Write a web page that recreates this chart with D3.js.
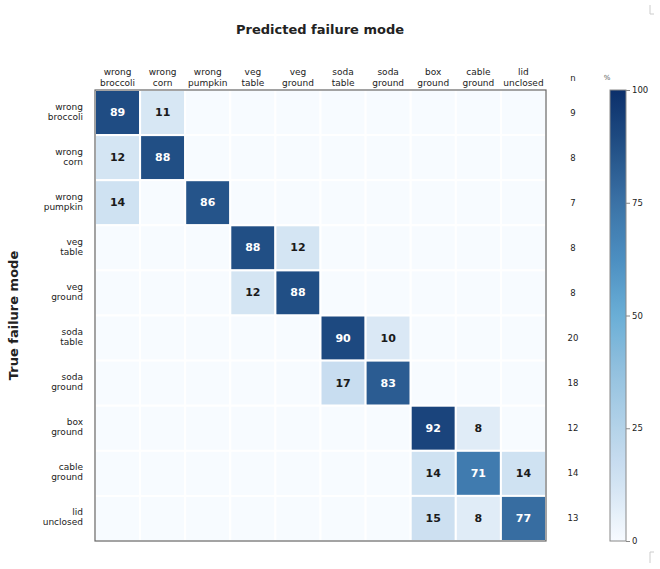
<!DOCTYPE html>
<html lang="en">

<head>
	<meta charset="UTF-8" />
	<title>Confusion matrix D3</title>
	<script src="https://cdn.jsdelivr.net/npm/d3@7"></script>
	<style>
		body { margin: 0; background: #fff; }
		text { font-family: "DejaVu Sans", sans-serif; fill: #222; }
	</style>
</head>

<body>
	<svg id="vis" width="660" height="569"></svg>

	<script>
		// failure modes (rows = true, columns = predicted)
		var modes = ["wrong broccoli", "wrong corn", "wrong pumpkin", "veg table", "veg ground",
			"soda table", "soda ground", "box ground", "cable ground", "lid unclosed"];

		// number of samples per true mode
		var counts = [9, 8, 7, 8, 8, 20, 18, 12, 14, 13];

		// percentages, one row per true mode
		var rowBroccoli = [89, 11, 0, 0, 0, 0, 0, 0, 0, 0];
		var rowCorn = [12, 88, 0, 0, 0, 0, 0, 0, 0, 0];
		var rowPumpkin = [14, 0, 86, 0, 0, 0, 0, 0, 0, 0];
		var rowVegTable = [0, 0, 0, 88, 12, 0, 0, 0, 0, 0];
		var rowVegGround = [0, 0, 0, 12, 88, 0, 0, 0, 0, 0];
		var rowSodaTable = [0, 0, 0, 0, 0, 90, 10, 0, 0, 0];
		var rowSodaGround = [0, 0, 0, 0, 0, 17, 83, 0, 0, 0];
		var rowBoxGround = [0, 0, 0, 0, 0, 0, 0, 92, 8, 0];
		var rowCableGround = [0, 0, 0, 0, 0, 0, 0, 14, 71, 14];
		var rowLidUnclosed = [0, 0, 0, 0, 0, 0, 0, 15, 8, 77];
		var percent = [rowBroccoli, rowCorn, rowPumpkin, rowVegTable, rowVegGround,
			rowSodaTable, rowSodaGround, rowBoxGround, rowCableGround, rowLidUnclosed];

		var colorTicks = [0, 25, 50, 75, 100];

		var svg = d3.select("#vis");

		// geometry of the matrix
		var mLeft = 95, mTop = 90, mSize = 451;

		var scaleX = d3.scaleBand().domain(modes).range([mLeft, mLeft + mSize]);
		var scaleY = d3.scaleBand().domain(modes).range([mTop, mTop + mSize]);

		// colour scale (muted Blues)
		var color = d3.scaleLinear()
			.domain([0, 8, 12.5, 17, 25, 37.5, 50, 62.5, 75, 87.5, 100])
			.range(["#f7fbff", "#e0ecf7", "#d3e4f3", "#c8ddf0", "#b4d3e9", "#93c1df",
				"#6aaed6", "#4c8fc1", "#3b72a6", "#225086", "#0b2f6a"])
			.interpolate(d3.interpolateRgb);

		// cells
		var cells = [];
		for (var i = 0; i < percent.length; i++) {
			for (var j = 0; j < percent[i].length; j++) {
				cells.push({ row: modes[i], col: modes[j], v: percent[i][j] });
			}
		}

		var gCells = svg.append("g");
		gCells.selectAll("rect")
			.data(cells)
			.enter()
			.append("rect")
			.attr("x", function (d) { return scaleX(d.col); })
			.attr("y", function (d) { return scaleY(d.row); })
			.attr("width", scaleX.bandwidth())
			.attr("height", scaleY.bandwidth())
			.attr("fill", function (d) { return color(d.v); })
			.attr("stroke", "#fff")
			.attr("stroke-width", 2);

		gCells.selectAll("text")
			.data(cells.filter(function (d) { return d.v > 0; }))
			.enter()
			.append("text")
			.attr("x", function (d) { return scaleX(d.col) + scaleX.bandwidth() / 2; })
			.attr("y", function (d) { return scaleY(d.row) + scaleY.bandwidth() / 2; })
			.attr("text-anchor", "middle")
			.attr("dominant-baseline", "central")
			.style("font-size", "11px")
			.style("font-weight", "bold")
			.style("fill", function (d) { return d.v >= 50 ? "#fff" : "#1a1a1a"; })
			.text(function (d) { return d.v; });

		// frame
		svg.append("rect")
			.attr("x", mLeft)
			.attr("y", mTop)
			.attr("width", mSize)
			.attr("height", mSize)
			.attr("fill", "none")
			.attr("stroke", "#666")
			.attr("stroke-width", 1.2);

		// top axis (predicted)
		var gxAxis = svg.append("g")
			.attr("transform", "translate(0," + mTop + ")")
			.call(d3.axisTop(scaleX).tickSize(0));
		gxAxis.select(".domain").remove();
		gxAxis.selectAll("text").each(function (d) {
			var t = d3.select(this);
			var parts = d.split(" ");
			t.text(null).attr("y", -15).attr("dy", null)
				.style("font-size", "9px").style("fill", "#222");
			t.append("tspan").attr("x", 0).attr("dy", 0).text(parts[0]);
			t.append("tspan").attr("x", 0).attr("dy", 10.5).text(parts[1]);
		});

		// left axis (true)
		var gyAxis = svg.append("g")
			.attr("transform", "translate(" + mLeft + ",0)")
			.call(d3.axisLeft(scaleY).tickSize(0));
		gyAxis.select(".domain").remove();
		gyAxis.selectAll("text").each(function (d) {
			var t = d3.select(this);
			var parts = d.split(" ");
			t.text(null).attr("x", -12).attr("dy", null)
				.style("font-size", "9px").style("fill", "#222");
			t.append("tspan").attr("x", -12).attr("dy", -3).text(parts[0]);
			t.append("tspan").attr("x", -12).attr("dy", 10).text(parts[1]);
		});

		// titles
		svg.append("text")
			.attr("x", 320)
			.attr("y", 34)
			.attr("text-anchor", "middle")
			.style("font-size", "13px")
			.style("font-weight", "bold")
			.text("Predicted failure mode");

		svg.append("text")
			.attr("transform", "translate(18," + (mTop + mSize / 2) + ") rotate(-90)")
			.attr("text-anchor", "middle")
			.style("font-size", "13px")
			.style("font-weight", "bold")
			.text("True failure mode");

		// n column
		svg.append("text")
			.attr("x", 573)
			.attr("y", 81)
			.attr("text-anchor", "middle")
			.style("font-size", "8.5px")
			.text("n");

		svg.append("g").selectAll("text")
			.data(counts)
			.enter()
			.append("text")
			.attr("x", 573)
			.attr("y", function (d, i) { return scaleY(modes[i]) + scaleY.bandwidth() / 2; })
			.attr("text-anchor", "middle")
			.attr("dominant-baseline", "central")
			.style("font-size", "8.5px")
			.text(function (d) { return d; });

		// colour bar
		var cbX = 610, cbW = 16;
		var scaleC = d3.scaleLinear().domain([0, 100]).range([mTop + mSize, mTop]);

		var grad = svg.append("defs").append("linearGradient")
			.attr("id", "cbar")
			.attr("x1", 0).attr("y1", 1).attr("x2", 0).attr("y2", 0);
		d3.range(0, 101, 2.5).forEach(function (v) {
			grad.append("stop").attr("offset", v + "%").attr("stop-color", color(v));
		});

		svg.append("rect")
			.attr("x", cbX)
			.attr("y", mTop)
			.attr("width", cbW)
			.attr("height", mSize)
			.attr("fill", "url(#cbar)")
			.attr("stroke", "#888")
			.attr("stroke-width", 1);

		var gcAxis = svg.append("g")
			.attr("transform", "translate(" + (cbX + cbW) + ",0)")
			.call(d3.axisRight(scaleC).tickValues(colorTicks).tickSize(4).tickPadding(2));
		gcAxis.select(".domain").remove();
		gcAxis.selectAll("line").attr("stroke", "#888");
		gcAxis.selectAll("text").style("font-size", "8.5px").style("fill", "#222");

		svg.append("text")
			.attr("x", 607)
			.attr("y", 80)
			.attr("text-anchor", "middle")
			.style("font-size", "7px")
			.style("fill", "#555")
			.text("%");

		// small crop marks at the right edge
		svg.append("path")
			.attr("d", "M650,5V14H654M650,563V552H654")
			.attr("fill", "none")
			.attr("stroke", "#ccc")
			.attr("stroke-width", 1);
	</script>
</body>

</html>
